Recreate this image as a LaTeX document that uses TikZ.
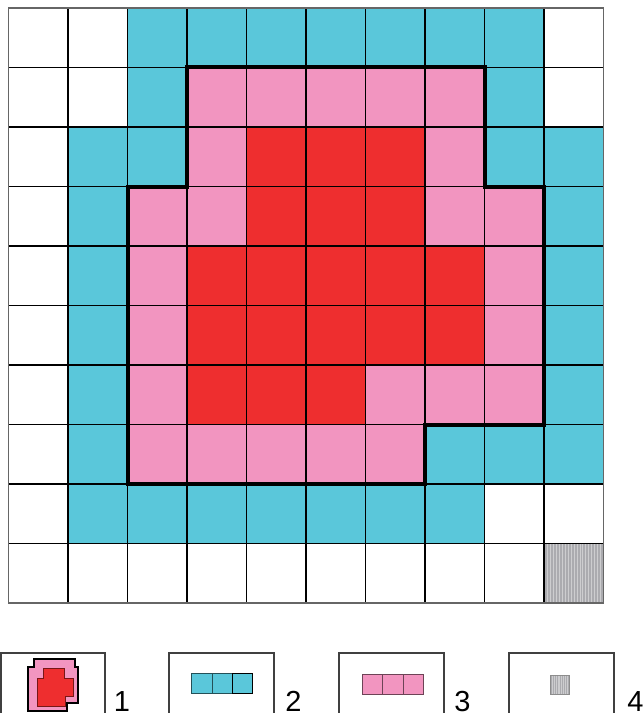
\documentclass[tikz,border=0pt]{standalone}
\usepackage{fontspec}
\setmainfont{Liberation Sans}
\definecolor{cy}{HTML}{5AC7DA}
\definecolor{pk}{HTML}{F295C0}
\definecolor{rd}{HTML}{EE2E2F}
\definecolor{gy}{HTML}{ABABAF}
\tikzset{
  gridline/.style={draw=black, line width=0.9pt},
  heavy/.style={draw=black, line width=3pt, line join=miter},
  legbox/.style={draw=black!75, line width=1.1pt, fill=white},
  legnum/.style={anchor=base west, inner sep=0pt, font=\fontsize{21.75pt}{26pt}\selectfont},
}
\begin{document}
\begin{tikzpicture}[x=0.75pt,y=-0.75pt]
\useasboundingbox (0,0) rectangle (643,713);
\clip (0,0) rectangle (643,713);
\fill[white] (0,0) rectangle (643,713);
% main grid
\begin{scope}[shift={(8.5,8)}, x=44.625pt, y=-44.625pt]
  \foreach \c/\r in {2/0,3/0,4/0,5/0,6/0,7/0,8/0, 2/1,8/1, 1/2,2/2,8/2,9/2,
     1/3,9/3,1/4,9/4,1/5,9/5,1/6,9/6, 1/7,7/7,8/7,9/7,
     1/8,2/8,3/8,4/8,5/8,6/8,7/8}
     \fill[cy] (\c,\r) rectangle ++(1,1);
  \foreach \c/\r in {3/1,4/1,5/1,6/1,7/1, 3/2,7/2, 2/3,3/3,7/3,8/3,
     2/4,8/4,2/5,8/5, 2/6,6/6,7/6,8/6, 2/7,3/7,4/7,5/7,6/7}
     \fill[pk] (\c,\r) rectangle ++(1,1);
  \foreach \c/\r in {4/2,5/2,6/2,4/3,5/3,6/3, 3/4,4/4,5/4,6/4,7/4,
     3/5,4/5,5/5,6/5,7/5, 3/6,4/6,5/6}
     \fill[rd] (\c,\r) rectangle ++(1,1);
  \fill[gy] (9,9) rectangle (10,10);
  \foreach \i in {1,...,19}
     \draw[white!40!gy, line width=0.3pt] (9+\i/20,9) -- (9+\i/20,10);
  \foreach \i in {1,...,9} {
     \draw[gridline] (\i,0) -- (\i,10);
     \draw[gridline] (0,\i) -- (10,\i);
  }
  \draw[draw=black!60, line width=1pt] (0,0) rectangle (10,10);
  \draw[heavy] (3,1) -- (8,1) -- (8,3) -- (9,3) -- (9,7) -- (7,7) -- (7,8)
     -- (2,8) -- (2,3) -- (3,3) -- cycle;
\end{scope}
% legend boxes
\draw[legbox] (1,653) rectangle (105,730);
\draw[legbox] (169,653) rectangle (274,730);
\draw[legbox] (339,653) rectangle (444,730);
\draw[legbox] (509,653) rectangle (614,730);
% legend 1 icon
\fill[pk] (34,659) -- (75,659) -- (75,667) -- (78,667) -- (78,703) -- (67,703)
   -- (67,711) -- (28,711) -- (28,667) -- (34,667) -- cycle;
\filldraw[fill=rd, draw=black!50!rd, line width=0.4pt] (43,668) -- (64,668) -- (64,678) -- (73,678) -- (73,696)
   -- (65,696) -- (65,706) -- (37,706) -- (37,678) -- (43,678) -- cycle;
\draw[black, line width=1.6pt, line join=miter] (34,659) -- (75,659) -- (75,667) -- (78,667) -- (78,703) -- (67,703)
   -- (67,711) -- (28,711) -- (28,667) -- (34,667) -- cycle;
% legend 2
\foreach \x in {191.7,211.9}
  \filldraw[fill=cy, draw=black!60!cy, line width=0.6pt] (\x,673.3) rectangle ++(20.2,20);
\filldraw[fill=cy, draw=black, line width=0.8pt] (232.1,673.3) rectangle (252.3,693.3);
% legend 3
\foreach \x in {362.3,382.6,403.0}
  \filldraw[fill=pk, draw=black!55!pk, line width=0.6pt] (\x,674.3) rectangle ++(20.3,19.7);
% legend 4
\filldraw[fill=gy, draw=black!45, line width=0.6pt] (550,675) rectangle (569.3,694);
\foreach \i in {1,...,9}
  \draw[white!40!gy, line width=0.3pt] (550+\i*1.93,675.5) -- (550+\i*1.93,693.5);
% labels
\node[legnum] (n1) at (113.5,711) {1};
\node[legnum] (n2) at (285,711) {2};
\node[legnum] (n3) at (454,711) {3};
\node[legnum] (n4) at (627,711) {4};
\end{tikzpicture}
\end{document}
